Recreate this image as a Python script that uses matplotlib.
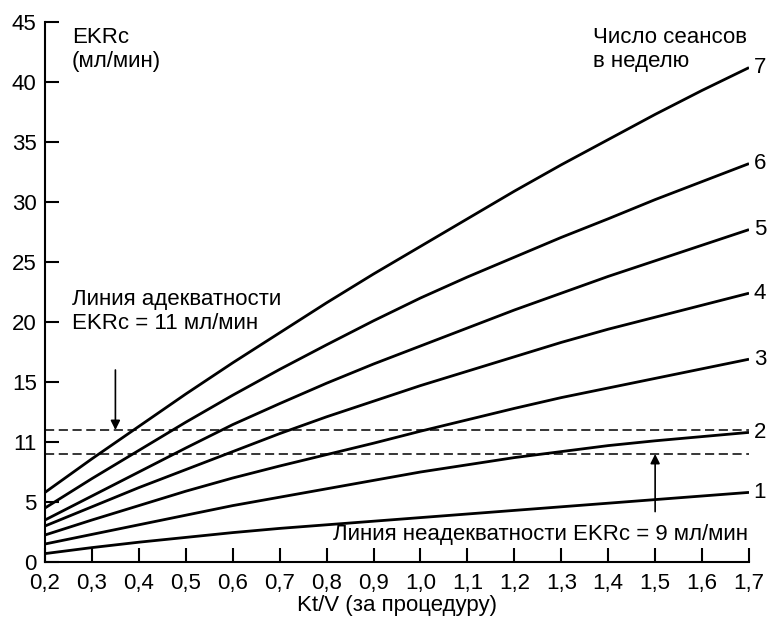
import matplotlib
matplotlib.use("Agg")
import matplotlib.pyplot as plt

plt.rcParams['font.family'] = ['Liberation Sans', 'DejaVu Sans']

# Kt/V за процедуру
ktv = [0.2, 0.3, 0.4, 0.5, 0.6, 0.7, 0.8, 0.9, 1.0, 1.1, 1.2, 1.3, 1.4, 1.5, 1.6, 1.7]

# EKRc (мл/мин) для разного числа сеансов в неделю
ekrc = {
    1: [0.7, 1.2, 1.65, 2.05, 2.45, 2.8, 3.1, 3.4, 3.7, 4.0, 4.3, 4.6, 4.9, 5.2, 5.5, 5.8],
    2: [1.5, 2.3, 3.1, 3.9, 4.7, 5.4, 6.1, 6.8, 7.5, 8.1, 8.7, 9.2, 9.7, 10.1, 10.45, 10.8],
    3: [2.25, 3.5, 4.7, 5.9, 7.0, 8.0, 8.95, 9.9, 10.9, 11.85, 12.8, 13.7, 14.5, 15.3, 16.1, 16.9],
    4: [3.0, 4.6, 6.2, 7.7, 9.2, 10.7, 12.1, 13.4, 14.7, 15.9, 17.1, 18.3, 19.4, 20.4, 21.4, 22.4],
    5: [3.5, 5.5, 7.5, 9.5, 11.45, 13.2, 14.9, 16.5, 18.0, 19.5, 21.0, 22.4, 23.8, 25.1, 26.4, 27.7],
    6: [4.5, 6.95, 9.3, 11.65, 13.9, 16.05, 18.1, 20.1, 22.0, 23.75, 25.4, 27.05, 28.6, 30.2, 31.7, 33.2],
    7: [5.8, 8.6, 11.3, 14.0, 16.6, 19.1, 21.6, 24.0, 26.3, 28.6, 30.9, 33.1, 35.2, 37.3, 39.3, 41.2],
}

adequate_level = 11
inadequate_level = 9

x_ticks = [0.2, 0.3, 0.4, 0.5, 0.6, 0.7, 0.8, 0.9, 1.0, 1.1, 1.2, 1.3, 1.4, 1.5, 1.6, 1.7]
y_ticks = [0, 5, 10, 15, 20, 25, 30, 35, 40, 45]
y_tick_labels = ['0', '5', '11', '15', '20', '25', '30', '35', '40', '45']

FS = 16

fig = plt.figure(figsize=(7.7, 6.19), dpi=100)
ax = fig.add_axes([45 / 770, 57 / 619, 704 / 770, 540 / 619])

for n, vals in ekrc.items():
    ax.plot(ktv, vals, color='black', lw=2.0, solid_capstyle='butt',
            solid_joinstyle='round')
    ax.text(ktv[-1] + 0.01, vals[-1], str(n), fontsize=FS, ha='left', va='center',
            clip_on=False)

# линии адекватности / неадекватности
for lvl in (adequate_level, inadequate_level):
    ax.plot([ktv[0], ktv[-1]], [lvl, lvl], color='black', lw=1.1,
            linestyle=(0, (6, 3)))

ax.annotate('', xy=(0.35, adequate_level), xytext=(0.35, 16.0),
            arrowprops=dict(arrowstyle='-|>', color='black', lw=1.2,
                            mutation_scale=14, shrinkA=0, shrinkB=0))
ax.annotate('', xy=(1.5, inadequate_level), xytext=(1.5, 4.2),
            arrowprops=dict(arrowstyle='-|>', color='black', lw=1.2,
                            mutation_scale=14, shrinkA=0, shrinkB=0))

ax.text(0.257, 20.85, 'Линия адекватности\nEKRc = 11 мл/мин', fontsize=FS,
        ha='left', va='center')
ax.text(1.697, 2.3, 'Линия неадекватности EKRc = 9 мл/мин', fontsize=FS,
        ha='right', va='center')
ax.text(0.257, 44.6, 'EKRc\n(мл/мин)', fontsize=FS, ha='left', va='top')
ax.text(1.368, 44.6, 'Число сеансов\nв неделю', fontsize=FS, ha='left', va='top')

ax.set_xlim(0.2, 1.7)
ax.set_ylim(0, 45)
ax.set_xticks(x_ticks)
ax.set_xticklabels([f'{v:.1f}'.replace('.', ',') for v in x_ticks])
ax.set_yticks(y_ticks)
ax.set_yticklabels(y_tick_labels)
ax.tick_params(direction='in', length=10, width=1.5, labelsize=FS, color='black')
ax.tick_params(axis='y', pad=6)
ax.tick_params(axis='x', pad=8)
ax.set_xlabel('Kt/V (за процедуру)', fontsize=FS, labelpad=1)

for side in ('top', 'right'):
    ax.spines[side].set_visible(False)
for side in ('left', 'bottom'):
    ax.spines[side].set_linewidth(1.5)

fig.savefig('out.png', dpi=100)
